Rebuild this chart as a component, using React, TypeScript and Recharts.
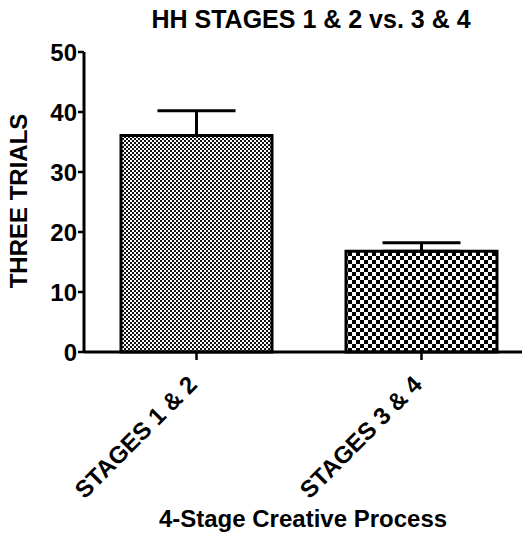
import React from 'react';
import { BarChart, Bar, XAxis, YAxis, ErrorBar, Cell } from 'recharts';

const categories = ['STAGES 1 & 2', 'STAGES 3 & 4'];
const means = [36.1, 16.8];
const upperErr = [4.1, 1.4];
const yTicks = [0, 10, 20, 30, 40, 50];
const patterns = ['fineCheck', 'coarseCheck'];

const data = categories.map((name, i) => ({
    name,
    value: means[i],
    err: [0, upperErr[i]],
}));

const FONT = '"Liberation Sans", Arial, Helvetica, sans-serif';

function XTick(props: any) {
    const { x, y, payload } = props;
    const ax = x + 2;
    const ay = y + 24;
    return (
        <text
            x={ax}
            y={ay}
            transform={`rotate(-45 ${ax} ${ay})`}
            textAnchor="end"
            fontFamily={FONT}
            fontWeight="bold"
            fontSize={24}
            fill="#000"
        >
            {payload.value}
        </text>
    );
}

export default function App() {
    return (
        <div style={{ position: 'absolute', left: 0, top: 0, width: 528, height: 535, background: '#fff' }}>
            <BarChart
                width={528}
                height={535}
                data={data}
                margin={{ top: 52, right: 6, bottom: 0, left: 0 }}
            >
                <defs>
                    <pattern id="fineCheck" width={4} height={4} patternUnits="userSpaceOnUse">
                        <rect width={4} height={4} fill="#fff" />
                        <rect width={2} height={2} fill="#111" />
                        <rect x={2} y={2} width={2} height={2} fill="#111" />
                    </pattern>
                    <pattern id="coarseCheck" width={8} height={8} patternUnits="userSpaceOnUse">
                        <rect width={8} height={8} fill="#fff" />
                        <rect width={4} height={4} fill="#000" />
                        <rect x={4} y={4} width={4} height={4} fill="#000" />
                    </pattern>
                </defs>
                <XAxis
                    dataKey="name"
                    height={183}
                    padding={{ left: 0, right: -12 }}
                    axisLine={{ stroke: '#000', strokeWidth: 3 }}
                    tickLine={{ stroke: '#000', strokeWidth: 2.5 }}
                    tickSize={8}
                    tick={<XTick />}
                    interval={0}
                />
                <YAxis
                    width={84}
                    domain={[0, 50]}
                    ticks={yTicks}
                    interval={0}
                    axisLine={{ stroke: '#000', strokeWidth: 3 }}
                    tickLine={{ stroke: '#000', strokeWidth: 2.5 }}
                    tickSize={6}
                    tickMargin={1}
                    tick={{ fill: '#000', fontFamily: FONT, fontWeight: 'bold', fontSize: 24 }}
                />
                <Bar dataKey="value" barSize={151} stroke="#000" strokeWidth={3} isAnimationActive={false}>
                    {data.map((d, i) => (
                        <Cell key={d.name} fill={`url(#${patterns[i]})`} />
                    ))}
                    <ErrorBar dataKey="err" direction="y" width={39} stroke="#000" strokeWidth={3} isAnimationActive={false} />
                </Bar>
                <text x={311} y={28} textAnchor="middle" fontFamily={FONT} fontWeight="bold" fontSize={25} fill="#000">
                    HH STAGES 1 &amp; 2 vs. 3 &amp; 4
                </text>
                <text
                    x={27}
                    y={201}
                    transform="rotate(-90 27 201)"
                    textAnchor="middle"
                    fontFamily={FONT}
                    fontWeight="bold"
                    fontSize={24}
                    fill="#000"
                >
                    THREE TRIALS
                </text>
                <text x={303} y={527} textAnchor="middle" fontFamily={FONT} fontWeight="bold" fontSize={24} fill="#000">
                    4-Stage Creative Process
                </text>
            </BarChart>
        </div>
    );
}
